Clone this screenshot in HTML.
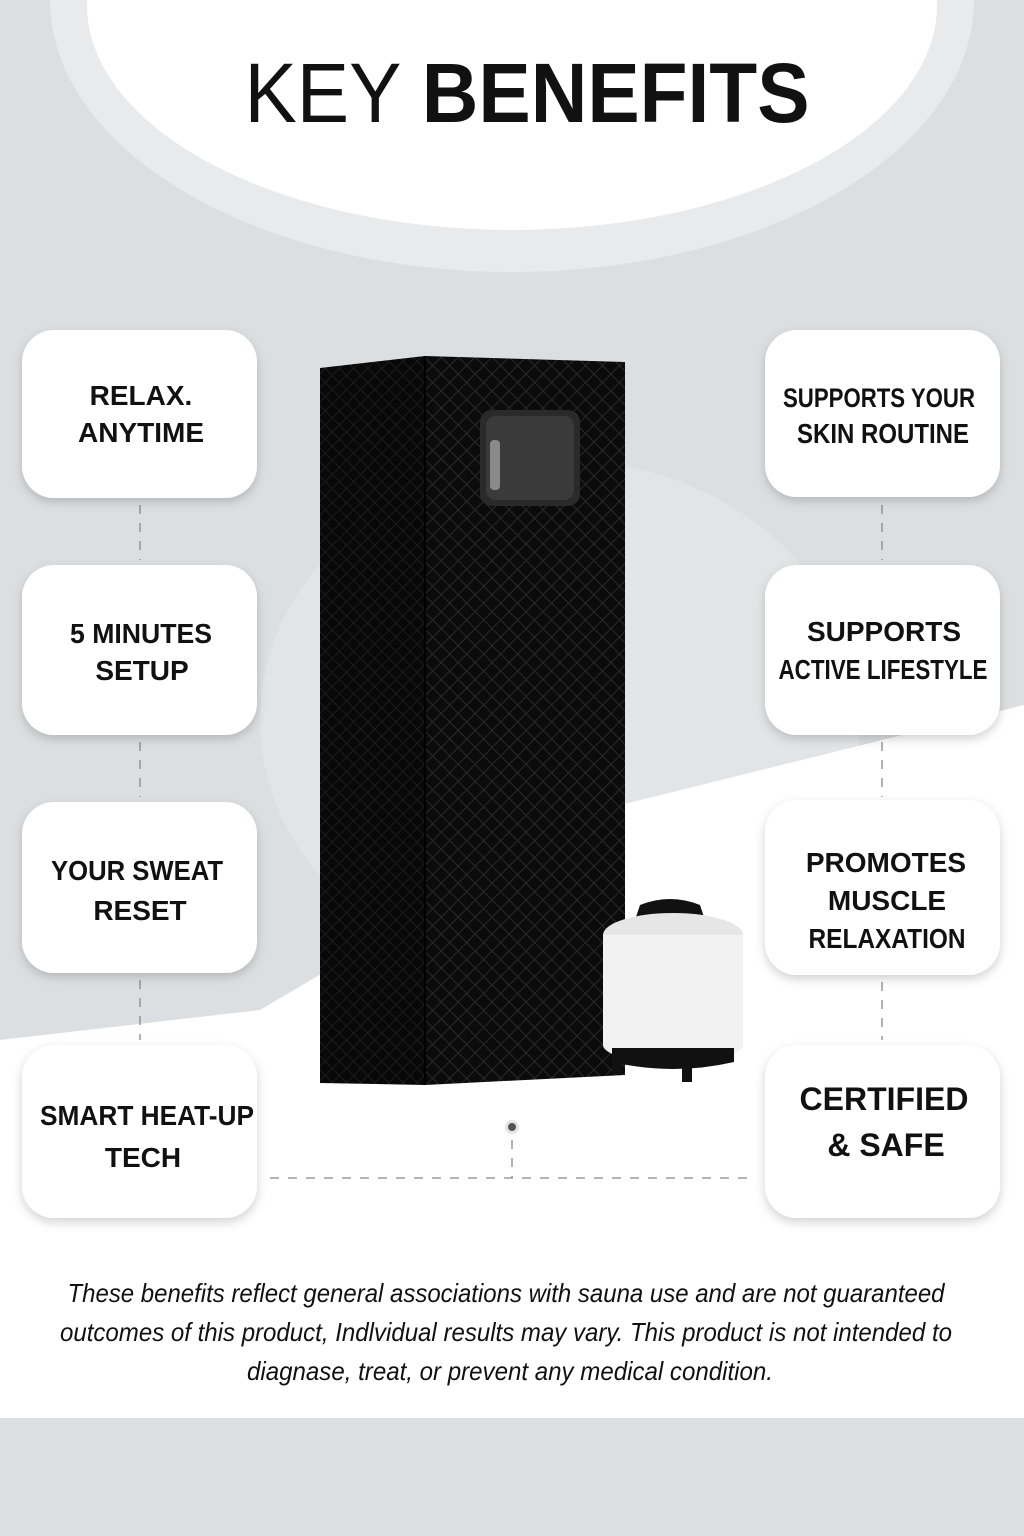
<!DOCTYPE html>
<html><head><meta charset="utf-8"><style>
html,body{margin:0;padding:0;background:#dcdfe1;}
svg{display:block;}
text{font-family:"Liberation Sans Narrow","Liberation Sans",sans-serif;fill:#111;}
.b{font-weight:bold;font-size:28px;}
.r{font-size:27px;}
.i{font-style:italic;font-size:26px;}
</style></head><body>
<svg width="1024" height="1536" viewBox="0 0 1024 1536" xmlns="http://www.w3.org/2000/svg">
<defs>
<pattern id="q" width="12" height="12" patternUnits="userSpaceOnUse" patternTransform="rotate(45)">
<rect width="12" height="12" fill="#0b0b0b"/>
<path d="M0 0H12M0 0V12" stroke="#2a2a2a" stroke-width="2"/>
</pattern>
<pattern id="q2" width="10" height="10" patternUnits="userSpaceOnUse" patternTransform="rotate(45)">
<rect width="10" height="10" fill="#080808"/>
<path d="M0 0H10M0 0V10" stroke="#1c1c1c" stroke-width="2"/>
</pattern>
<filter id="sh" x="-20%" y="-20%" width="140%" height="140%"><feDropShadow dx="0" dy="4" stdDeviation="5" flood-color="#000" flood-opacity="0.18"/></filter>
</defs>
<rect width="1024" height="1536" fill="#dcdfe1"/>
<ellipse cx="512" cy="0" rx="462" ry="272" fill="#e8eaeb"/>
<ellipse cx="512" cy="5" rx="425" ry="225" fill="#ffffff"/>
<ellipse cx="560" cy="720" rx="300" ry="260" fill="#e2e5e6"/>
<polygon points="0,1040 260,1010 600,810 1024,705 1024,1418 0,1418" fill="#ffffff"/>
<rect x="0" y="1418" width="1024" height="118" fill="#dcdfe1"/>
<text x="527" y="122" text-anchor="middle" font-size="84" textLength="565" lengthAdjust="spacingAndGlyphs"><tspan>KEY </tspan><tspan font-weight="bold">BENEFITS</tspan></text>

<g stroke="#888" stroke-width="1.3" stroke-dasharray="9,9" fill="none">
<path d="M140 505V560M140 742V797M140 980V1040"/>
<path d="M882 505V560M882 742V797M882 982V1040"/>
<path d="M270 1178H755"/>
<path d="M512 1140V1178"/>
</g>
<circle cx="512" cy="1127" r="7" fill="#e5e5e5"/><circle cx="512" cy="1127" r="4" fill="#555"/>

<!-- sauna -->
<polygon points="320,368 425,356 425,1085 320,1083" fill="url(#q2)"/>
<polygon points="425,356 625,362 625,1075 425,1085" fill="url(#q)"/>
<rect x="480" y="410" width="100" height="96" rx="12" fill="#2a2a2a"/>
<rect x="486" y="416" width="88" height="84" rx="10" fill="#3a3a3a"/>
<rect x="490" y="440" width="10" height="50" rx="4" fill="#8a8a8a"/>
<path d="M425 356V1085" stroke="#000" stroke-width="2"/>
<!-- steamer -->
<path d="M640 905 q30 -12 60 0 l5 15 h-70z" fill="#111"/>
<ellipse cx="673" cy="935" rx="70" ry="22" fill="#e6e6e6"/>
<rect x="603" y="935" width="140" height="110" fill="#f2f2f2"/>
<ellipse cx="673" cy="1045" rx="70" ry="18" fill="#f2f2f2"/>
<path d="M612 1048 h122 v14 q-61 14 -122 0z" fill="#111"/>
<rect x="682" y="1060" width="10" height="22" fill="#111"/><rect x="612" y="1058" width="10" height="16" fill="#111"/>

<g fill="#fff" filter="url(#sh)">
<rect x="22" y="330" width="235" height="168" rx="32"/>
<rect x="22" y="565" width="235" height="170" rx="32"/>
<rect x="22" y="802" width="235" height="171" rx="32"/>
<rect x="22" y="1045" width="235" height="173" rx="32"/>
<rect x="765" y="330" width="235" height="167" rx="32"/>
<rect x="765" y="565" width="235" height="170" rx="32"/>
<rect x="765" y="800" width="235" height="175" rx="32"/>
<rect x="765" y="1045" width="235" height="173" rx="32"/>
</g>
<g text-anchor="middle" class="b">
<text class="b" x="141" y="405" text-anchor="middle">RELAX.</text>
<text class="b" x="141" y="442" text-anchor="middle">ANYTIME</text>
<text class="b" x="141" y="643" text-anchor="middle" textLength="142" lengthAdjust="spacingAndGlyphs">5 MINUTES</text>
<text class="b" x="142" y="680" text-anchor="middle">SETUP</text>
<text class="b" x="137" y="880" text-anchor="middle" textLength="172" lengthAdjust="spacingAndGlyphs">YOUR SWEAT</text>
<text class="b" x="140" y="920" text-anchor="middle">RESET</text>
<text class="b" x="147" y="1125" text-anchor="middle" textLength="214" lengthAdjust="spacingAndGlyphs">SMART HEAT-UP</text>
<text class="b" x="143" y="1167" text-anchor="middle">TECH</text>
<text class="r" x="879" y="407" text-anchor="middle" textLength="192" lengthAdjust="spacingAndGlyphs">SUPPORTS YOUR</text>
<text class="b" x="883" y="443" text-anchor="middle" textLength="172" lengthAdjust="spacingAndGlyphs">SKIN ROUTINE</text>
<text class="b" x="884" y="641" text-anchor="middle">SUPPORTS</text>
<text class="b" x="883" y="679" text-anchor="middle" textLength="209" lengthAdjust="spacingAndGlyphs">ACTIVE LIFESTYLE</text>
<text class="b" x="886" y="872" text-anchor="middle">PROMOTES</text>
<text class="b" x="887" y="910" text-anchor="middle">MUSCLE</text>
<text class="b" x="887" y="948" text-anchor="middle" textLength="157" lengthAdjust="spacingAndGlyphs">RELAXATION</text>
<text class="b" x="884" y="1110" text-anchor="middle" font-size="32" style="font-size:32px">CERTIFIED</text>
<text class="b" x="886" y="1156" text-anchor="middle" style="font-size:32px">&amp; SAFE</text>
</g>
<text class="i" x="506" y="1302" text-anchor="middle" textLength="877" lengthAdjust="spacingAndGlyphs">These benefits reflect general associations with sauna use and are not guaranteed</text>
<text class="i" x="506" y="1341" text-anchor="middle" textLength="892" lengthAdjust="spacingAndGlyphs">outcomes of this product, Indlvidual results may vary. This product is not intended to</text>
<text class="i" x="510" y="1380" text-anchor="middle" textLength="526" lengthAdjust="spacingAndGlyphs">diagnase, treat, or prevent any medical condition.</text>
</svg>
</body></html>
